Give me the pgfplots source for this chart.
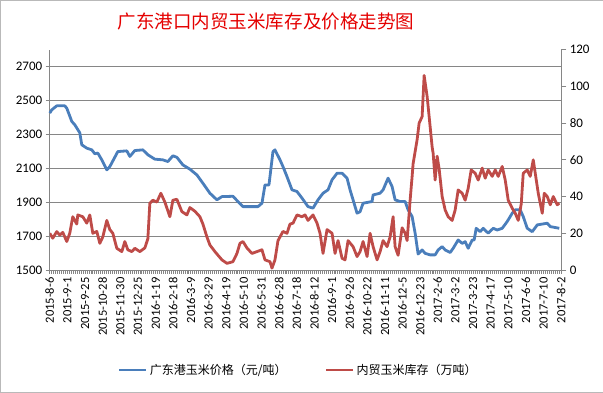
\documentclass[border=0pt]{standalone}
\usepackage{fontspec}
\setmainfont{Carlito}
\newfontfamily\cjk{Noto Sans CJK SC}
\usepackage{pgfplots}
\pgfplotsset{compat=1.18}
\usepackage{pgfplotstable}

\definecolor{priceblue}{RGB}{74,126,187}
\definecolor{stockred}{RGB}{190,75,72}
\definecolor{gridgray}{RGB}{134,134,134}
\definecolor{titlered}{RGB}{228,0,0}

% x = horizontal pixel position in the reference (category axis), y = value
\pgfplotstableread{
x y
50 2426
52 2445
57 2469
65 2469
67 2455
72 2377
75 2357
80 2310
82 2239
87 2219
92 2209
95 2186
98 2190
102 2150
107 2091
110 2110
118 2199
127 2203
130 2170
135 2205
143 2209
148 2180
155 2154
163 2150
168 2140
173 2174
177 2165
183 2120
190 2095
197 2061
203 2012
210 1953
217 1914
222 1933
233 1935
238 1904
243 1874
258 1874
262 1894
265 2002
269 2002
273 2199
275 2209
280 2150
283 2110
287 2051
292 1973
297 1963
302 1924
308 1874
313 1865
318 1914
323 1953
328 1973
332 2032
337 2071
342 2071
347 2042
350 1973
353 1914
357 1835
360 1844
363 1894
372 1904
373 1943
380 1953
383 1973
388 2042
392 1992
395 1914
400 1904
405 1904
408 1855
412 1815
415 1717
418 1594
422 1618
425 1598
430 1589
435 1589
438 1618
442 1638
445 1618
450 1603
453 1628
458 1677
462 1657
465 1667
468 1628
472 1677
474 1677
476 1746
480 1726
483 1746
488 1717
493 1746
497 1736
502 1746
507 1786
512 1835
515 1855
520 1855
523 1815
527 1746
532 1726
537 1766
547 1776
550 1756
559 1746
}\pricedata

\pgfplotstableread{
x y
50 20
53 17.3
57 20.9
60 19
63 20.5
67 15.5
70 20
73 29
77 25
78 30
83 29
87 25.5
90 30
93 20
97 21
100 14.5
103 18
107 27
110 22
113 20
117 11.8
122 10
125 15.5
128 11
132 10
135 11.8
140 10
145 12
148 17
150 36.4
153 38
157 37
161 41.8
165 37
170 29
173 38
177 38.5
182 31.8
187 30
190 34
195 32
200 29
203 25
207 18
210 13.6
215 10
222 5.5
227 3.6
233 4.5
237 9
240 14.5
243 15.5
247 12
252 9
257 10
262 11
265 5.5
270 4.5
272 1
275 5.5
278 16
283 21
287 20
290 25
293 25.5
297 30
302 29
305 30
308 27
313 30
317 25.5
320 20
323 9
327 22
332 20
335 9
338 16
342 6.4
345 5.5
348 16
353 12.7
357 7.3
360 10
363 15.5
367 7.3
370 20
373 12.7
377 5.5
380 10
383 16
387 12.7
390 18
393 29
395 12.7
398 8
402 23
405 20
407 16
410 38
412 51
413 58
417 71
419 80
422 83.6
424 106
427 94.5
429 83.6
432 67
433 63.6
435 49
437 62
439 55
442 40
445 32.7
448 29
452 27
455 32.7
458 43.6
462 41.8
465 38
468 44.5
471 54.5
475 52.7
478 49
482 55.5
485 50
488 54.5
492 51
495 54.5
498 51
502 56.4
505 49
508 38
512 33.6
515 30.9
518 27
521 36
523 52.7
527 54.5
530 51
533 60
535 52.7
538 41.8
542 30.9
544 41.8
547 40
550 35.5
553 40
557 35.5
559 36.4
}\stockdata

\begin{document}
\begin{tikzpicture}
\draw[gray!55] (0.5pt,0.5pt) rectangle (602.5pt,392.5pt);
\node[font=\cjk\fontsize{18.5}{20}\selectfont, text=titlered] at (266pt,371pt) {广东港口内贸玉米库存及价格走势图};
\begin{axis}[
  at={(50pt,123pt)}, anchor=south west,
  width=511pt, height=220pt, scale only axis,
  xmin=0, xmax=29, ymin=1500, ymax=2800,
  axis x line*=bottom, axis y line*=left,
  axis line style={gridgray, line width=0.8pt},
  tick align=outside,
  major tick length=4pt, minor tick length=4pt,
  tick style={gridgray, line width=0.8pt},
  xtick={0,...,29}, minor x tick num=8,
  xticklabels={2015-8-6,2015-9-1,2015-9-25,2015-10-28,2015-11-30,2015-12-25,2016-1-19,2016-2-18,2016-3-9,2016-3-29,2016-4-19,2016-5-10,2016-5-31,2016-6-28,2016-7-18,2016-8-12,2016-9-1,2016-9-26,2016-10-22,2016-11-11,2016-12-5,2016-12-23,2017-2-6,2017-3-2,2017-3-23,2017-4-17,2017-5-10,2017-6-6,2017-7-10,2017-8-2},
  xticklabel style={rotate=90, anchor=east, font=\fontsize{12.5}{14}\selectfont, text=black},
  ytick={1500,1700,...,2700},
  yticklabel style={font=\fontsize{13}{15}\selectfont, text=black},
  /pgf/number format/assume math mode=true,
  /pgf/number format/1000 sep={},
  ymajorgrids, grid style={gridgray, line width=0.8pt},
  clip=false,
]
\addplot[priceblue, line width=2.8pt, line join=round] table[x expr={(\thisrow{x}-50)/17.62}, y=y] {\pricedata};
\end{axis}
\begin{axis}[
  at={(50pt,123pt)}, anchor=south west,
  width=511pt, height=220pt, scale only axis,
  xmin=0, xmax=29, ymin=0, ymax=120,
  axis x line=none, axis y line*=right,
  axis line style={gridgray, line width=0.8pt},
  tick align=outside, major tick length=5pt,
  tick style={gridgray, line width=0.8pt},
  ytick={0,20,...,120},
  yticklabel style={font=\fontsize{13}{15}\selectfont, text=black},
  /pgf/number format/assume math mode=true,
  legend columns=2,
  legend style={at={(0.133,-0.4545)}, anchor=west, draw=none, fill=none,
    font=\cjk\fontsize{12}{14}\selectfont, inner sep=0pt,
    /tikz/every even column/.append style={column sep=36pt}},
  legend image code/.code={\draw[#1] (0pt,0pt) -- (27pt,0pt);},
  legend cell align=left,
]
\addlegendimage{priceblue, line width=2.8pt}
\addlegendentry{广东港玉米价格（元/吨）}
\addplot[stockred, line width=2.8pt, line join=round] table[x expr={(\thisrow{x}-50)/17.62}, y=y] {\stockdata};
\addlegendentry{内贸玉米库存（万吨）}
\end{axis}
\end{tikzpicture}
\end{document}
